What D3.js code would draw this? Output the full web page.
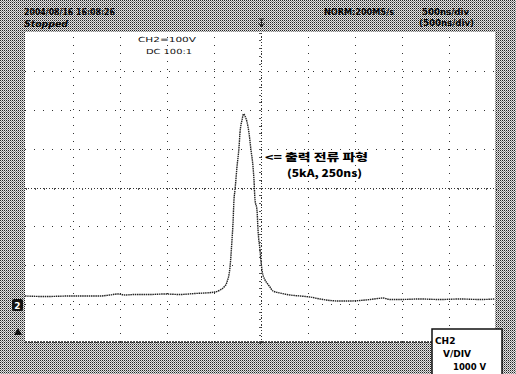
<!DOCTYPE html>
<html><head><meta charset="utf-8">
<script src="https://cdn.jsdelivr.net/npm/d3@7/dist/d3.min.js"></script>
<style>html,body{margin:0;padding:0;background:#fff;overflow:hidden}</style>
</head><body>
<svg id="c" width="516" height="374"></svg>
<script>
// ---- data ----
const timeNs = [0,213,479,798,904,989,1064,1170,1330,1489,1649,1809,1915,2021,2074,2117,2149,2181,2202,2213,2223,2234,2255,2277,2287,2309,2324,2340,2362,2383,2404,2426,2436,2447,2468,2479,2500,2521,2553,2574,2606,2638,2713,2819,2926,3032,3138,3245,3351,3457,3564,3670,3755,3809,3883,3989,4202,4415,4628,4840,5000];
const voltV  = [-2813,-2826,-2813,-2813,-2787,-2761,-2787,-2774,-2774,-2761,-2774,-2748,-2735,-2710,-2658,-2581,-2452,-2065,-1368,-929,-335,-77,516,1032,1394,1729,1884,1832,1677,1394,955,516,181,-335,-594,-1110,-1626,-2142,-2400,-2477,-2581,-2684,-2735,-2787,-2813,-2839,-2890,-2929,-2942,-2942,-2929,-2903,-2877,-2865,-2903,-2903,-2890,-2903,-2890,-2903,-2890];
const xTicks = [0,500,1000,1500,2000,2500,3000,3500,4000,4500,5000];
const yTicks = [-4000,-3000,-2000,-1000,0,1000,2000,3000,4000];
const headerLeft = ["2004/08/16  16:08:26", "Stopped"];
const chLabel = ["CH2=100V", "DC  100:1"];
const headerRight = ["NORM:200MS/s", "500ns/div", "(500ns/div)"];
const annotation = ["<= 출력 전류 파형", "(5kA, 250ns)"];
const vdivBox = ["CH2", "V/DIV", "1000  V"];

// ---- layout ----
const svg = d3.select("#c");
const L = 25, R = 495, T = 32, B = 342;
const x = d3.scaleLinear().domain([0,5000]).range([L,R]);
const y = d3.scaleLinear().domain([-4000,4000]).range([B,T]);

const defs = svg.append("defs");
const pat = defs.append("pattern").attr("id","dith").attr("width",2).attr("height",2).attr("patternUnits","userSpaceOnUse");
pat.append("rect").attr("width",2).attr("height",2).attr("fill","#e4e4e4");
pat.append("rect").attr("x",0).attr("y",0).attr("width",1).attr("height",1).attr("fill","#222");
pat.append("rect").attr("x",1).attr("y",1).attr("width",1).attr("height",1).attr("fill","#888");

svg.append("rect").attr("width",516).attr("height",374).attr("fill","url(#dith)");
svg.append("rect").attr("x",L).attr("y",T).attr("width",R-L).attr("height",B-T).attr("fill","#fff");

// grid
const grid = svg.append("g").attr("shape-rendering","crispEdges");
grid.append("g").attr("transform",`translate(0.5,${B})`)
  .call(d3.axisBottom(x).tickValues(xTicks.slice(1,-1)).tickSize(-(B-T)).tickFormat(""))
  .call(g=>g.select(".domain").remove())
  .call(g=>g.selectAll("line").attr("stroke","#333").attr("stroke-width",1).attr("stroke-dasharray","1,7"));
grid.append("g").attr("transform",`translate(${L},0.5)`)
  .call(d3.axisLeft(y).tickValues(yTicks.slice(1,-1)).tickSize(-(R-L)).tickFormat(""))
  .call(g=>g.select(".domain").remove())
  .call(g=>g.selectAll("line").attr("stroke","#333").attr("stroke-width",1).attr("stroke-dasharray","1,8"));

// centre axes with minor ticks
const minorX = d3.range(0,5001,100);
const minorY = d3.range(-4000,4001,200);
svg.append("g").attr("transform",`translate(0.5,${y(0)+0.5})`).attr("shape-rendering","crispEdges")
  .call(d3.axisBottom(x).tickValues(minorX).tickSize(2).tickFormat(""))
  .call(g=>g.select(".domain").attr("stroke","#333").attr("stroke-dasharray","1,2"))
  .call(g=>g.selectAll("line").attr("stroke","#555"));
svg.append("g").attr("transform",`translate(${x(2500)+0.5},0.5)`).attr("shape-rendering","crispEdges")
  .call(d3.axisLeft(y).tickValues(minorY).tickSize(2).tickFormat(""))
  .call(g=>g.select(".domain").attr("stroke","#333").attr("stroke-dasharray","1,2"))
  .call(g=>g.selectAll("line").attr("stroke","#555"));

// bottom border
svg.append("line").attr("x1",L).attr("x2",R).attr("y1",B).attr("y2",B).attr("stroke","#222").attr("stroke-width",1.5).attr("stroke-dasharray","2,1");

// trace
const line = d3.line().x((d,i)=>x(timeNs[i])).y(d=>y(d)).curve(d3.curveMonotoneX);
svg.append("path").datum(voltV).attr("d",line).attr("fill","none").attr("stroke","#222").attr("stroke-width",1.4).attr("stroke-dasharray","1.5,0.7");

// header text
const f = "'DejaVu Sans', sans-serif";
svg.append("text").attr("x",24).attr("y",15).attr("font-family",f).attr("font-weight","bold").attr("font-size",8).attr("textLength",91).attr("lengthAdjust","spacingAndGlyphs").text(headerLeft[0]);
svg.append("text").attr("x",24).attr("y",27).attr("font-family",f).attr("font-weight","bold").attr("font-style","italic").attr("font-size",8.5).attr("textLength",44).attr("lengthAdjust","spacingAndGlyphs").text(headerLeft[1]);
svg.append("text").attr("x",138).attr("y",42).attr("font-family",f).attr("font-size",7).attr("fill","#111").attr("textLength",58).attr("lengthAdjust","spacingAndGlyphs").text(chLabel[0]);
svg.append("text").attr("x",146).attr("y",54).attr("font-family",f).attr("font-size",7).attr("fill","#111").attr("textLength",46).attr("lengthAdjust","spacingAndGlyphs").text(chLabel[1]);
svg.append("text").attr("x",324).attr("y",15).attr("font-family",f).attr("font-weight","bold").attr("font-size",8).attr("textLength",70).attr("lengthAdjust","spacingAndGlyphs").text(headerRight[0]);
svg.append("text").attr("x",422).attr("y",15).attr("font-family",f).attr("font-weight","bold").attr("font-size",8).attr("textLength",47).attr("lengthAdjust","spacingAndGlyphs").text(headerRight[1]);
svg.append("text").attr("x",419).attr("y",26).attr("font-family",f).attr("font-weight","bold").attr("font-size",8).attr("textLength",55).attr("lengthAdjust","spacingAndGlyphs").text(headerRight[2]);

// trigger marker
svg.append("path").attr("d",`M${x(2500)-1},19 L${x(2500)+4},19 M${x(2500)+1.5},19 L${x(2500)+1.5},26 M${x(2500)-1},23 L${x(2500)+1.5},27 L${x(2500)+4},23`).attr("stroke","#222").attr("fill","none").attr("stroke-width",1);

// annotation
const kf = "'Noto Sans CJK KR', sans-serif";
svg.append("text").attr("x",265).attr("y",161).attr("font-family",kf).attr("font-weight","900").attr("font-size",10).attr("textLength",103).attr("lengthAdjust","spacingAndGlyphs").text(annotation[0]);
svg.append("text").attr("x",287).attr("y",177).attr("font-family",kf).attr("font-weight","900").attr("font-size",10).attr("textLength",75).attr("lengthAdjust","spacingAndGlyphs").text(annotation[1]);

// channel marker
svg.append("rect").attr("x",12).attr("y",299).attr("width",11).attr("height",12).attr("rx",2).attr("fill","#111");
svg.append("text").attr("x",17.5).attr("y",308.5).attr("text-anchor","middle").attr("font-family",f).attr("font-weight","bold").attr("font-size",9).attr("fill","#fff").text("2");
svg.append("path").attr("d","M14,335 L18,328 L22,335 Z").attr("fill","#111");

// V/DIV box
svg.append("rect").attr("x",432).attr("y",329).attr("width",70).attr("height",50).attr("fill","#fff").attr("stroke","#111").attr("stroke-width",1.5);
svg.append("text").attr("x",435).attr("y",344).attr("font-family",f).attr("font-weight","bold").attr("font-size",9).text(vdivBox[0]);
svg.append("text").attr("x",443).attr("y",357).attr("font-family",f).attr("font-weight","bold").attr("font-size",9).text(vdivBox[1]);
svg.append("text").attr("x",453).attr("y",370).attr("font-family",f).attr("font-weight","bold").attr("font-size",8.5).text(vdivBox[2]);
</script>
</body></html>
